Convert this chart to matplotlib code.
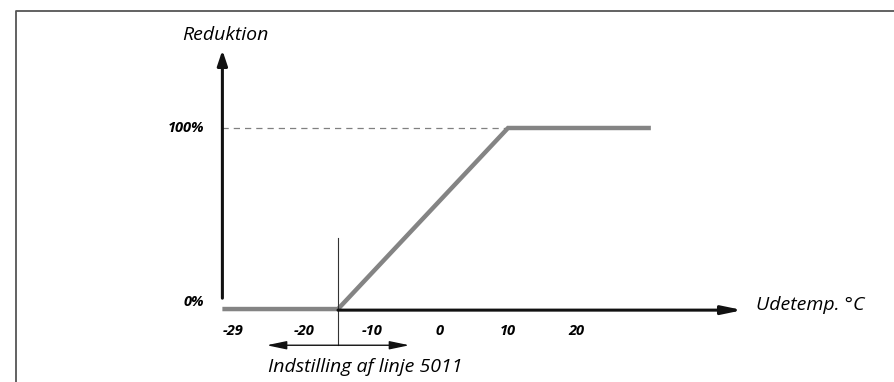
import numpy as np
import matplotlib.pyplot as plt

# DATA ------------------------------------------------------------------------
curve_x = [-32, -15, 10, 31]        # udetemp. (deg C)
curve_y = [0, 0, 100, 100]          # reduktion (%)
tick_pos = [-30.5, -20, -10, 0, 10, 20]
tick_lab = ["-29", "-20", "-10", "0", "10", "20"]
x_start, x_end = -32, 44.5
y_top = 143
setting_x = -15
setting_range = [-25.5, -4.5]

# FIGURE ----------------------------------------------------------------------
fig = plt.figure(figsize=(8.95, 3.82), dpi=100)
ax = fig.add_axes([0, 0, 1, 1])
ax.set_xlim(-64.7, 66.9)
ax.set_ylim(-40.3, 170.7)
ax.axis('off')

fnt = dict(family='Open Sans', style='italic')

# frame
ax.plot([0.018, 0.018, 1.0], [0.0, 0.971, 0.971], transform=ax.transAxes,
        color='#555555', lw=1.3, clip_on=False)

# dashed 100% line
ax.plot([x_start, 10], [100, 100], ls=(0, (5, 4)), color='#808080', lw=0.9)

# axes arrows
ax.annotate('', xy=(x_start, y_top), xytext=(x_start, 6),
            arrowprops=dict(arrowstyle='-|>,head_length=0.9,head_width=0.3',
                            color='#111111', lw=2.2, shrinkA=0, shrinkB=0))
ax.annotate('', xy=(x_end, -0.6), xytext=(setting_x, -0.6),
            arrowprops=dict(arrowstyle='-|>,head_length=1.2,head_width=0.25',
                            color='#111111', lw=2.2, shrinkA=0, shrinkB=0))

# reduction curve
ax.plot(curve_x, curve_y, color='#848484', lw=3.2, solid_capstyle='butt',
        solid_joinstyle='miter')

# setting marker
ax.plot([setting_x, setting_x], [-20, 39], color='#333333', lw=0.8)
ax.annotate('', xy=(setting_range[0], -20), xytext=(setting_range[1], -20),
            arrowprops=dict(arrowstyle='<|-|>,head_length=1.2,head_width=0.25',
                            color='#111111', lw=1.0, shrinkA=0, shrinkB=0))

# texts
for p, l in zip(tick_pos, tick_lab):
    ax.text(p, -12, l, ha='center', va='center', fontsize=10.5,
            fontweight='bold', **fnt)
ax.text(-37.3, 100, '100%', ha='center', va='center', fontsize=10.5,
        fontweight='bold', **fnt)
ax.text(-36.2, 4, '0%', ha='center', va='center', fontsize=10.5,
        fontweight='bold', **fnt)
ax.text(-31.5, 151.5, 'Reduktion', ha='center', va='center', fontsize=14, **fnt)
ax.text(46.5, 2.5, 'Udetemp. °C', ha='left', va='center', fontsize=14, **fnt)
ax.text(-11, -32, 'Indstilling af linje 5011', ha='center', va='center',
        fontsize=14, **fnt)

fig.savefig('out.png', dpi=100)
